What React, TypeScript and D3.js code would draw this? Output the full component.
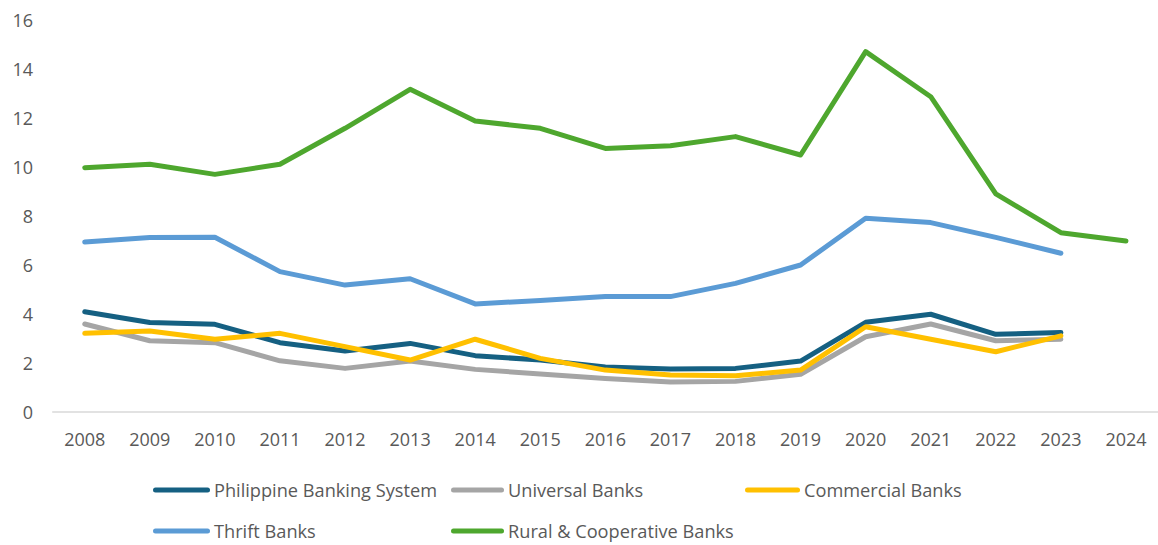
import React from "react";
import * as d3 from "d3";

const years = ["2008","2009","2010","2011","2012","2013","2014","2015","2016","2017","2018","2019","2020","2021","2022","2023","2024"];
const yTicks = [0, 2, 4, 6, 8, 10, 12, 14, 16];

const philippineBankingSystem = [4.09, 3.65, 3.58, 2.83, 2.49, 2.80, 2.30, 2.12, 1.84, 1.76, 1.78, 2.08, 3.66, 3.99, 3.17, 3.24, null];
const universalBanks = [3.59, 2.91, 2.83, 2.09, 1.78, 2.08, 1.74, 1.55, 1.37, 1.22, 1.25, 1.54, 3.07, 3.59, 2.91, 2.97, null];
const commercialBanks = [3.21, 3.31, 2.97, 3.21, 2.67, 2.12, 2.97, 2.19, 1.71, 1.51, 1.48, 1.71, 3.48, 2.97, 2.46, 3.11, null];
const thriftBanks = [6.94, 7.12, 7.13, 5.73, 5.18, 5.44, 4.41, 4.55, 4.71, 4.71, 5.25, 6.00, 7.91, 7.73, 7.13, 6.48, null];
const ruralCooperativeBanks = [9.97, 10.11, 9.70, 10.11, 11.58, 13.17, 11.88, 11.58, 10.76, 10.87, 11.24, 10.49, 14.71, 12.87, 8.90, 7.32, 6.98];

const seriesNames = ["Philippine Banking System", "Universal Banks", "Commercial Banks", "Thrift Banks", "Rural & Cooperative Banks"];
const seriesColors = ["#156082", "#a5a5a5", "#ffc000", "#5b9bd5", "#4ea72e"];
const seriesValues = [philippineBankingSystem, universalBanks, commercialBanks, thriftBanks, ruralCooperativeBanks];

const W = 1158;
const H = 545;
const FONT = "'Open Sans', sans-serif";
const TEXT = "#595959";

export default function App() {
  const x = d3.scaleBand<string>().domain(years).range([52.2, 1158.5]).paddingInner(0).paddingOuter(0);
  const y = d3.scaleLinear().domain([0, 16]).range([412, 20]);
  const cx = (i: number) => (x(years[i]) as number) + x.bandwidth() / 2;

  const line = d3
    .line<number | null>()
    .defined((d) => d !== null)
    .x((_, i) => cx(i))
    .y((d) => y(d as number));

  const legendItems = [
    { idx: 0, lx: 153, tx: 214, ty: 490 },
    { idx: 1, lx: 451, tx: 508, ty: 490 },
    { idx: 2, lx: 745, tx: 804, ty: 490 },
    { idx: 3, lx: 153, tx: 214, ty: 531 },
    { idx: 4, lx: 451, tx: 508, ty: 531 },
  ];

  return (
    <svg
      width={W}
      height={H}
      style={{ position: "absolute", left: 0, top: 0, background: "#fff" }}
      fontFamily={FONT}
    >
      {yTicks.map((t) => (
        <text key={t} x={33} y={y(t)} textAnchor="end" dominantBaseline="central" fontSize={18} fill={TEXT}>
          {t}
        </text>
      ))}
      <line x1={52.2} x2={1158.5} y1={y(0)} y2={y(0)} stroke="#d9d9d9" strokeWidth={1.5} />
      {years.map((yr, i) => (
        <text key={yr} x={cx(i)} y={439} textAnchor="middle" dominantBaseline="central" fontSize={18} fill={TEXT}>
          {yr}
        </text>
      ))}
      {seriesValues.map((vals, si) => (
        <path
          key={seriesNames[si]}
          d={line(vals) || ""}
          fill="none"
          stroke={seriesColors[si]}
          strokeWidth={5}
          strokeLinecap="round"
          strokeLinejoin="round"
        />
      ))}
      {legendItems.map((it) => (
        <g key={it.idx}>
          <line
            x1={it.lx + 2.5}
            x2={it.tx - 6.5}
            y1={it.ty}
            y2={it.ty}
            stroke={seriesColors[it.idx]}
            strokeWidth={5}
            strokeLinecap="round"
          />
          <text x={it.tx} y={it.ty} dominantBaseline="central" fontSize={18.2} fill={TEXT}>
            {seriesNames[it.idx]}
          </text>
        </g>
      ))}
    </svg>
  );
}
